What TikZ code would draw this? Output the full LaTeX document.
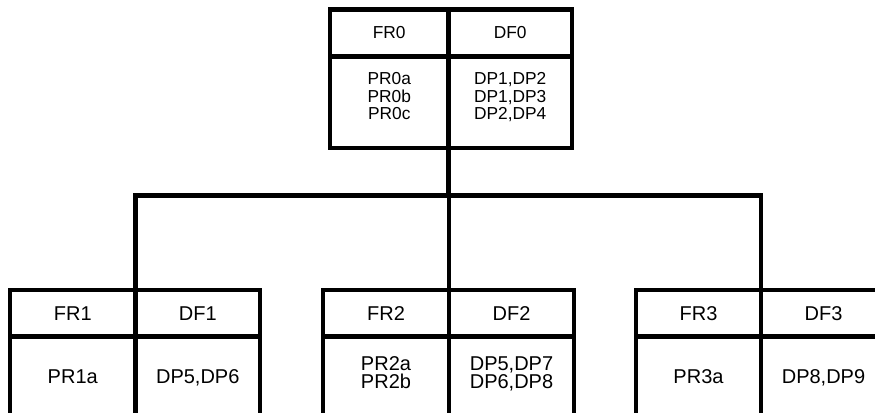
\documentclass[tikz,border=0pt]{standalone}
\usepackage{fontspec}
\setmainfont{Liberation Sans}
\begin{document}
\begin{tikzpicture}[x=0.75pt,y=-0.75pt]
\tikzset{
  cellbox/.style n args={2}{draw, line width=3.2pt, anchor=north west, inner sep=0pt, outer sep=0pt, minimum width=#1, minimum height=#2},
  conn/.style={line width=3.6pt, line join=miter},
  toptext/.style={font=\fontsize{13}{15.6}\selectfont, inner sep=0pt},
  kidtext/.style={font=\fontsize{15}{18}\selectfont, inner sep=0pt},
  lineT/.style={toptext, anchor=base},
  lineK/.style={kidtext, anchor=base},
}
\clip (0,0) rectangle (875,413);
\fill[white] (0,0) rectangle (875,413);

% top box
\node[cellbox={88.875pt}{35.25pt}, toptext] (fr0) at (330,9.5) {FR0};
\node[cellbox={92.625pt}{35.25pt}, toptext] (df0) at (448.5,9.5) {DF0};
\node[cellbox={88.875pt}{68.625pt}] (pr0) at (330,56.5) {};
\node[cellbox={92.625pt}{68.625pt}] (dp0) at (448.5,56.5) {};
\node[lineT] (pr0a) at (389.25,85) {PR0a};
\node[lineT] (pr0b) at (389.25,102.5) {PR0b};
\node[lineT] (pr0c) at (389.25,120) {PR0c};
\node[lineT] (dp0a) at (510.25,85) {DP1,DP2};
\node[lineT] (dp0b) at (510.25,102.5) {DP1,DP3};
\node[lineT] (dp0c) at (510.25,120) {DP2,DP4};

% left child
\node[cellbox={94.125pt}{34.875pt}, kidtext] (fr1) at (10,290) {FR1};
\node[cellbox={93.375pt}{34.875pt}, kidtext] (df1) at (135.5,290) {DF1};
\node[cellbox={94.125pt}{92.625pt}] (pr1) at (10,336.5) {};
\node[cellbox={93.375pt}{92.625pt}] (dp1) at (135.5,336.5) {};
\node[lineK] (pr1a) at (72.75,383) {PR1a};
\node[lineK] (dp1a) at (197.75,383) {DP5,DP6};

% middle child
\node[cellbox={94.5pt}{34.875pt}, kidtext] (fr2) at (323,290) {FR2};
\node[cellbox={93.75pt}{34.875pt}, kidtext] (df2) at (449,290) {DF2};
\node[cellbox={94.5pt}{92.625pt}] (pr2) at (323,336.5) {};
\node[cellbox={93.75pt}{92.625pt}] (dp2) at (449,336.5) {};
\node[lineK] (pr2a) at (386,370) {PR2a};
\node[lineK] (pr2b) at (386,388.5) {PR2b};
\node[lineK] (dp2a) at (511.5,370) {DP5,DP7};
\node[lineK] (dp2b) at (511.5,388.5) {DP6,DP8};

% right child
\node[cellbox={93.75pt}{34.875pt}, kidtext] (fr3) at (636,290) {FR3};
\node[cellbox={93.75pt}{34.875pt}, kidtext] (df3) at (761,290) {DF3};
\node[cellbox={93.75pt}{92.625pt}] (pr3) at (636,336.5) {};
\node[cellbox={93.75pt}{92.625pt}] (dp3) at (761,336.5) {};
\node[lineK] (pr3a) at (698.5,383) {PR3a};
\node[lineK] (dp3a) at (823.5,383) {DP8,DP9};

% connectors
\coordinate (bar) at (449,195.5);
\draw[conn] (pr0.south east) -- (pr0.south east |- bar);
\draw[conn] (fr1.north east) |- (bar) -| (fr3.north east);
\draw[conn] (fr2.north east) -- (fr2.north east |- bar);
\end{tikzpicture}
\end{document}
